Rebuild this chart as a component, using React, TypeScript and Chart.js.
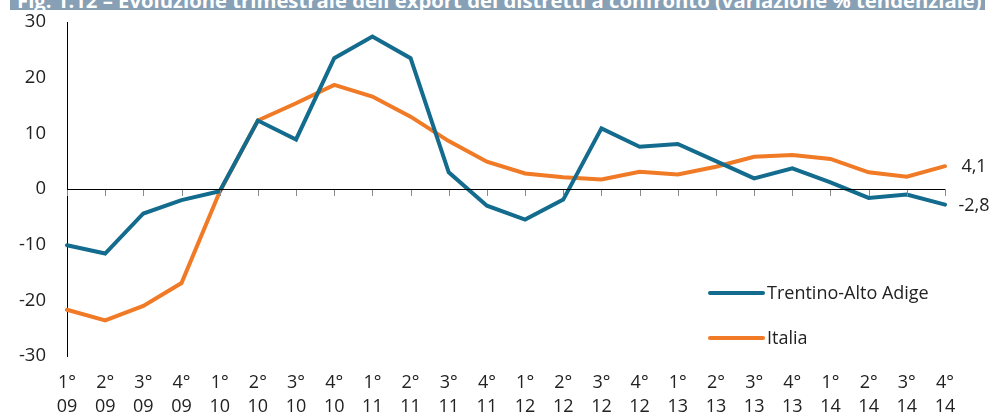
import React, { useEffect, useRef } from "react";
import { Chart, registerables } from "chart.js";

Chart.register(...registerables);

const quarters = ["1°","2°","3°","4°","1°","2°","3°","4°","1°","2°","3°","4°","1°","2°","3°","4°","1°","2°","3°","4°","1°","2°","3°","4°"];
const years = ["09","09","09","09","10","10","10","10","11","11","11","11","12","12","12","12","13","13","13","13","14","14","14","14"];
const trentino = [-10.1, -11.6, -4.4, -2.0, -0.4, 12.3, 8.9, 23.5, 27.4, 23.5, 3.0, -3.0, -5.5, -1.9, 10.9, 7.6, 8.1, 5.0, 1.9, 3.7, 1.2, -1.6, -1.0, -2.8];
const italia = [-21.7, -23.6, -21.0, -16.9, -0.5, 12.3, 15.4, 18.7, 16.6, 13.0, 8.6, 4.9, 2.8, 2.1, 1.7, 3.1, 2.6, 4.0, 5.8, 6.1, 5.4, 3.0, 2.2, 4.1];
const seriesNames = ["Trentino-Alto Adige", "Italia"];
const endLabels = ["-2,8", "4,1"];
const yTicks = { min: -30, max: 30, step: 10 };
const titleText = "Fig. 1.12 – Evoluzione trimestrale dell'export dei distretti a confronto (variazione % tendenziale)";

const BLUE = "#136B8D";
const ORANGE = "#F07A25";
const FONT = "'Open Sans', 'Noto Sans', sans-serif";

const overlayPlugin = {
  id: "overlay",
  afterDatasetsDraw(chart: any) {
    const { ctx, chartArea, scales } = chart;
    const x = scales.x;
    const y = scales.y;
    const y0 = y.getPixelForValue(0);
    ctx.save();
    ctx.strokeStyle = "#8a8a8a";
    ctx.lineWidth = 1;
    for (let i = 0; i < quarters.length; i++) {
      const px = Math.round(x.getPixelForValue(i)) + 0.5;
      ctx.beginPath();
      ctx.moveTo(px, y0);
      ctx.lineTo(px, y0 + 7);
      ctx.stroke();
    }
    ctx.strokeStyle = "#000";
    ctx.beginPath();
    ctx.moveTo(chartArea.left, Math.round(y0) + 0.5);
    ctx.lineTo(chartArea.right, Math.round(y0) + 0.5);
    ctx.stroke();

    ctx.font = `18px ${FONT}`;
    ctx.fillStyle = "#222";
    ctx.textAlign = "center";
    ctx.textBaseline = "middle";
    const last = quarters.length - 1;
    const lx = x.getPixelForValue(last) + 29;
    ctx.fillText(endLabels[0], lx, y.getPixelForValue(trentino[last]) + 1);
    ctx.fillText(endLabels[1], lx, y.getPixelForValue(italia[last]) + 1);

    const colors = [BLUE, ORANGE];
    const legendY = [293, 338];
    ctx.textAlign = "left";
    ctx.lineCap = "round";
    for (let i = 0; i < 2; i++) {
      ctx.strokeStyle = colors[i];
      ctx.lineWidth = 4;
      ctx.beginPath();
      ctx.moveTo(710, legendY[i]);
      ctx.lineTo(763, legendY[i]);
      ctx.stroke();
      ctx.fillText(seriesNames[i], 767, legendY[i] + 1);
    }
    ctx.restore();
  },
};

export default function App() {
  const ref = useRef<HTMLCanvasElement | null>(null);
  useEffect(() => {
    if (!ref.current) return;
    const labels = quarters.map((q, i) => [q, years[i]]);
    const chart = new Chart(ref.current, {
      type: "line",
      data: {
        labels,
        datasets: [
          { label: seriesNames[0], data: trentino, borderColor: BLUE, borderWidth: 4, pointRadius: 0, tension: 0, borderCapStyle: "round", borderJoinStyle: "miter" },
          { label: seriesNames[1], data: italia, borderColor: ORANGE, borderWidth: 4, pointRadius: 0, tension: 0, borderCapStyle: "round", borderJoinStyle: "miter" },
        ],
      },
      options: {
        animation: false,
        responsive: false,
        maintainAspectRatio: false,
        layout: { padding: { left: 0, right: 49, top: 22, bottom: 0 } },
        plugins: { legend: { display: false }, tooltip: { enabled: false }, title: { display: false } },
        scales: {
          x: {
            offset: false,
            grid: { display: false, drawTicks: false },
            border: { display: false },
            ticks: { color: "#222", font: { family: FONT, size: 18, lineHeight: 1.38 }, padding: 14, maxRotation: 0, autoSkip: false },
            afterFit(scale: any) { scale.height = 61; scale.paddingLeft = 0; scale.paddingRight = 0; },
          },
          y: {
            min: yTicks.min,
            max: yTicks.max,
            ticks: { stepSize: yTicks.step, color: "#222", font: { family: FONT, size: 18.5 }, padding: 21 },
            grid: { display: false, drawTicks: false },
            border: { display: true, color: "#000", width: 1 },
            afterFit(scale: any) { scale.width = 67; scale.paddingTop = 0; scale.paddingBottom = 0; },
          },
        },
      },
      plugins: [overlayPlugin],
    });
    return () => chart.destroy();
  }, []);
  return (
    <div style={{ position: "absolute", left: 0, top: 0, width: 994, height: 417, background: "#fff" }}>
      <canvas ref={ref} width={994} height={417} style={{ position: "absolute", left: 0, top: 0, width: 994, height: 417 }} />
      <div style={{ position: "absolute", left: 10, top: 0, width: 975, height: 10, background: "#87A0B5", overflow: "hidden" }}>
        <div style={{ position: "absolute", left: 7, top: -12, whiteSpace: "nowrap", color: "#fff", fontWeight: 700, fontFamily: FONT, fontSize: 20.3, lineHeight: "24px" }}>{titleText}</div>
      </div>
    </div>
  );
}
